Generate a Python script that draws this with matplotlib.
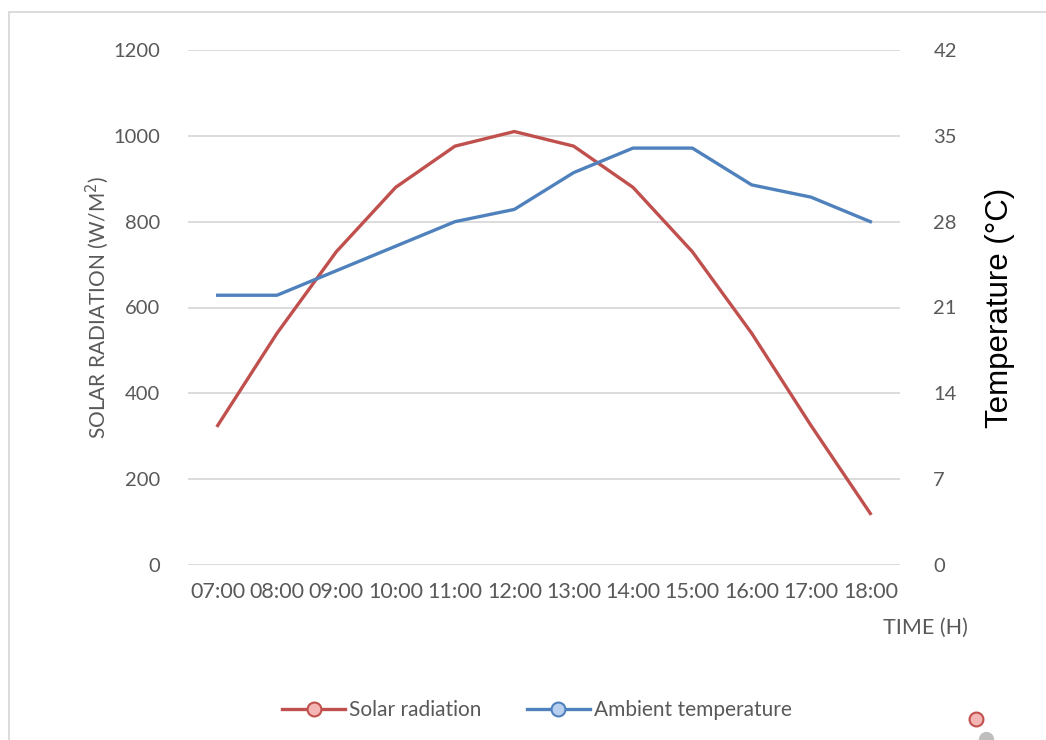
import matplotlib
matplotlib.use("Agg")
import matplotlib.pyplot as plt
from matplotlib.lines import Line2D
from matplotlib.patches import Rectangle

hours = ["07:00", "08:00", "09:00", "10:00", "11:00", "12:00",
         "13:00", "14:00", "15:00", "16:00", "17:00", "18:00"]
solar_radiation = [325, 540, 730, 880, 976, 1010, 976, 880, 730, 540, 325, 120]
ambient_temp = [22, 22, 24, 26, 28, 29, 32, 34, 34, 31, 30, 28]
left_ticks = [0, 200, 400, 600, 800, 1000, 1200]
right_ticks = [0, 7, 14, 21, 28, 35, 42]

RED = "#c0504d"
BLUE = "#4f81bd"
GRAY_TXT = "#595959"
GRID = "#d9d9d9"
FONT = ["Lato", "DejaVu Sans"]

plt.rcParams["font.family"] = FONT

fig = plt.figure(figsize=(10.46, 7.4), dpi=100)
ax = fig.add_axes([188 / 1046, 1 - 565 / 740, 712 / 1046, 515 / 740])
ax2 = ax.twinx()

x = list(range(len(hours)))
ax.plot(x, solar_radiation, color=RED, linewidth=2.4, solid_joinstyle="round", zorder=3)
ax2.plot(x, ambient_temp, color=BLUE, linewidth=2.4, solid_joinstyle="round", zorder=3)

ax.set_xlim(-0.5, len(hours) - 0.5)
ax.set_ylim(0, 1200)
ax2.set_ylim(0, 42)
ax.set_yticks(left_ticks)
ax2.set_yticks(right_ticks)
ax.set_xticks(x)
ax.set_xticklabels(hours)

ax.grid(axis="y", color=GRID, linewidth=1.3)
ax.set_axisbelow(True)
for a in (ax, ax2):
    for s in a.spines.values():
        s.set_visible(False)
    a.tick_params(length=0, labelsize=14.5, labelcolor=GRAY_TXT)
ax.tick_params(axis="y", pad=20)
ax2.tick_params(axis="y", pad=24)
ax.tick_params(axis="x", pad=12, labelsize=15.5)

ax.set_ylabel("SOLAR RADIATION (W/M$^2$)", fontsize=15, color=GRAY_TXT, labelpad=2)
ax2.set_ylabel("Temperature (°C)", fontsize=22.5, color="black",
               family=["Liberation Sans", "DejaVu Sans"], labelpad=20)
fig.text(968 / 1046, 1 - 628 / 740, "TIME (H)", ha="right", va="center",
         fontsize=15.5, color=GRAY_TXT)

handles = [
    Line2D([], [], color=RED, linewidth=2.4, marker="o", markersize=10,
           markerfacecolor="#f4b6b5", markeredgecolor=RED, markeredgewidth=1.5),
    Line2D([], [], color=BLUE, linewidth=2.4, marker="o", markersize=10,
           markerfacecolor="#b9cff0", markeredgecolor=BLUE, markeredgewidth=1.5),
]
fig.legend(handles, ["Solar radiation", "Ambient temperature"],
           loc="center", bbox_to_anchor=(537 / 1046, 1 - 710 / 740),
           ncol=2, frameon=False, fontsize=15, labelcolor=GRAY_TXT,
           handlelength=3.0, handletextpad=0.2, columnspacing=2.2)

# stray marker at the bottom right corner
fig.add_artist(Line2D([976 / 1046], [1 - 719 / 740], transform=fig.transFigure,
                      marker="o", markersize=10, markerfacecolor="#f4b6b5",
                      markeredgecolor=RED, markeredgewidth=1.5, linestyle="none"))
fig.add_artist(Line2D([986 / 1046], [1 - 739 / 740], transform=fig.transFigure,
                      marker="o", markersize=11, markerfacecolor="#8a8a8a",
                      markeredgecolor="none", alpha=0.55, linestyle="none"))

# chart frame
fig.add_artist(Rectangle((8.5 / 1046, -0.1), 1.2, 1 - 12.5 / 740 + 0.1,
                         transform=fig.transFigure, fill=False,
                         edgecolor="#d9d9d9", linewidth=1.3))

fig.savefig("out.png", dpi=100)
